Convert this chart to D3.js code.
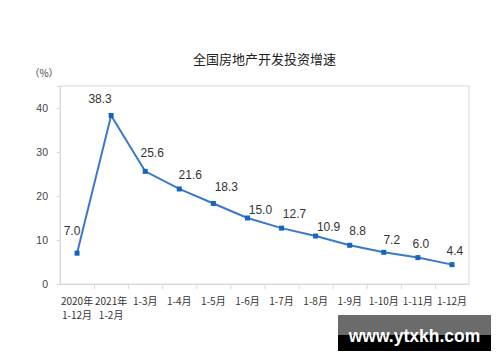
<!DOCTYPE html>
<html><head><meta charset="utf-8">
<script src="https://cdn.jsdelivr.net/npm/d3@7"></script>
<style>body{margin:0;background:#fff}svg{display:block}</style>
</head><body>
<svg id="c" width="500" height="362"></svg>
<script>
const categories = ["2020年\n1-12月","2021年\n1-2月","1-3月","1-4月","1-5月","1-6月","1-7月","1-8月","1-9月","1-10月","1-11月","1-12月"];
const values = [7.0,38.3,25.6,21.6,18.3,15.0,12.7,10.9,8.8,7.2,6.0,4.4];
const yTicks = [0,10,20,30,40];
const title = "全国房地产开发投资增速";
const unit = "（%）";
// label offsets (dx, dy) relative to each point
const labelDx = [-5,-11,7,11,13,13,13,13,8,8,3,3];
const labelDy = [-22,-16,-18,-14,-16,-8,-14,-9,-14,-12,-14,-14];

const svg = d3.select("#c");
const L=60, R=469, T=86, B=284;
const x = d3.scaleBand().domain(categories).range([L,R]);
const y = d3.scaleLinear().domain([0,45]).range([B,T]);
const cjk = "'Noto Sans CJK SC','Liberation Sans',sans-serif";
const num = "'Liberation Sans',Arial,sans-serif";

svg.append("text").attr("x",(L+R)/2).attr("y",64).attr("text-anchor","middle")
  .attr("font-family",cjk).attr("font-size",13).attr("fill","#222").text(title);
svg.append("text").attr("x",44).attr("y",77).attr("text-anchor","middle")
  .attr("font-family",cjk).attr("font-size",10).attr("fill","#444").text(unit);

// frame
svg.append("rect").attr("x",L).attr("y",T).attr("width",R-L).attr("height",B-T)
  .attr("fill","none").attr("stroke","#d9d9d9").attr("stroke-width",1);

// y axis ticks + labels
const yAxis = d3.axisLeft(y).tickValues(yTicks).tickSize(3).tickFormat(d=>d).tickPadding(9);
const gy = svg.append("g").attr("transform",`translate(${L},0)`).call(yAxis);
gy.select(".domain").attr("stroke","#d9d9d9");
gy.selectAll(".tick line").attr("stroke","#d9d9d9");
gy.selectAll(".tick text").attr("font-family",num).attr("font-size",10.5).attr("fill","#444");

// x axis
const xAxis = d3.axisBottom(x).tickSize(0).tickFormat("");
const gx = svg.append("g").attr("transform",`translate(0,${B})`).call(xAxis);
gx.select(".domain").attr("stroke","#d9d9d9");
// boundary ticks
svg.selectAll(".xtk").data(categories.slice(1)).join("line")
  .attr("x1",d=>x(d)+0.5).attr("x2",d=>x(d)+0.5).attr("y1",B).attr("y2",B+5)
  .attr("stroke","#d9d9d9");
// x labels
categories.forEach(c=>{
  const lines=c.split("\n");
  const t=svg.append("text").attr("text-anchor","middle").attr("font-family",cjk)
    .attr("font-size",10).attr("fill","#333");
  lines.forEach((s,i)=>t.append("tspan").attr("x",x(c)+x.bandwidth()/2).attr("y",305+i*14).text(s));
});

const cx = (d,i)=>x(categories[i])+x.bandwidth()/2;
const line = d3.line().x((d,i)=>cx(d,i)).y(d=>y(d));
svg.append("path").datum(values).attr("d",line).attr("fill","none")
  .attr("stroke","#3a78c8").attr("stroke-width",2);
svg.selectAll(".pt").data(values).join("rect")
  .attr("x",(d,i)=>cx(d,i)-2.5).attr("y",d=>y(d)-2.5).attr("width",5).attr("height",5)
  .attr("fill","#1565c0");
svg.selectAll(".lb").data(values).join("text")
  .attr("x",(d,i)=>cx(d,i)+labelDx[i]).attr("y",(d,i)=>y(d)+labelDy[i]+4)
  .attr("text-anchor","middle").attr("font-family",num).attr("font-size",12)
  .attr("fill","#333").text(d=>d.toFixed(1));

// watermark
svg.append("rect").attr("x",338).attr("y",315).attr("width",153).attr("height",20).attr("fill","#6b6b6b");
svg.append("rect").attr("x",338).attr("y",335).attr("width",153).attr("height",16).attr("fill","#000");
svg.append("text").attr("x",414.5).attr("y",342).attr("text-anchor","middle")
  .attr("font-family","'Liberation Sans',Arial,sans-serif").attr("font-weight","bold").attr("font-size",17.5)
  .attr("fill","#fff").text("www.ytxkh.com");
</script>
</body></html>
